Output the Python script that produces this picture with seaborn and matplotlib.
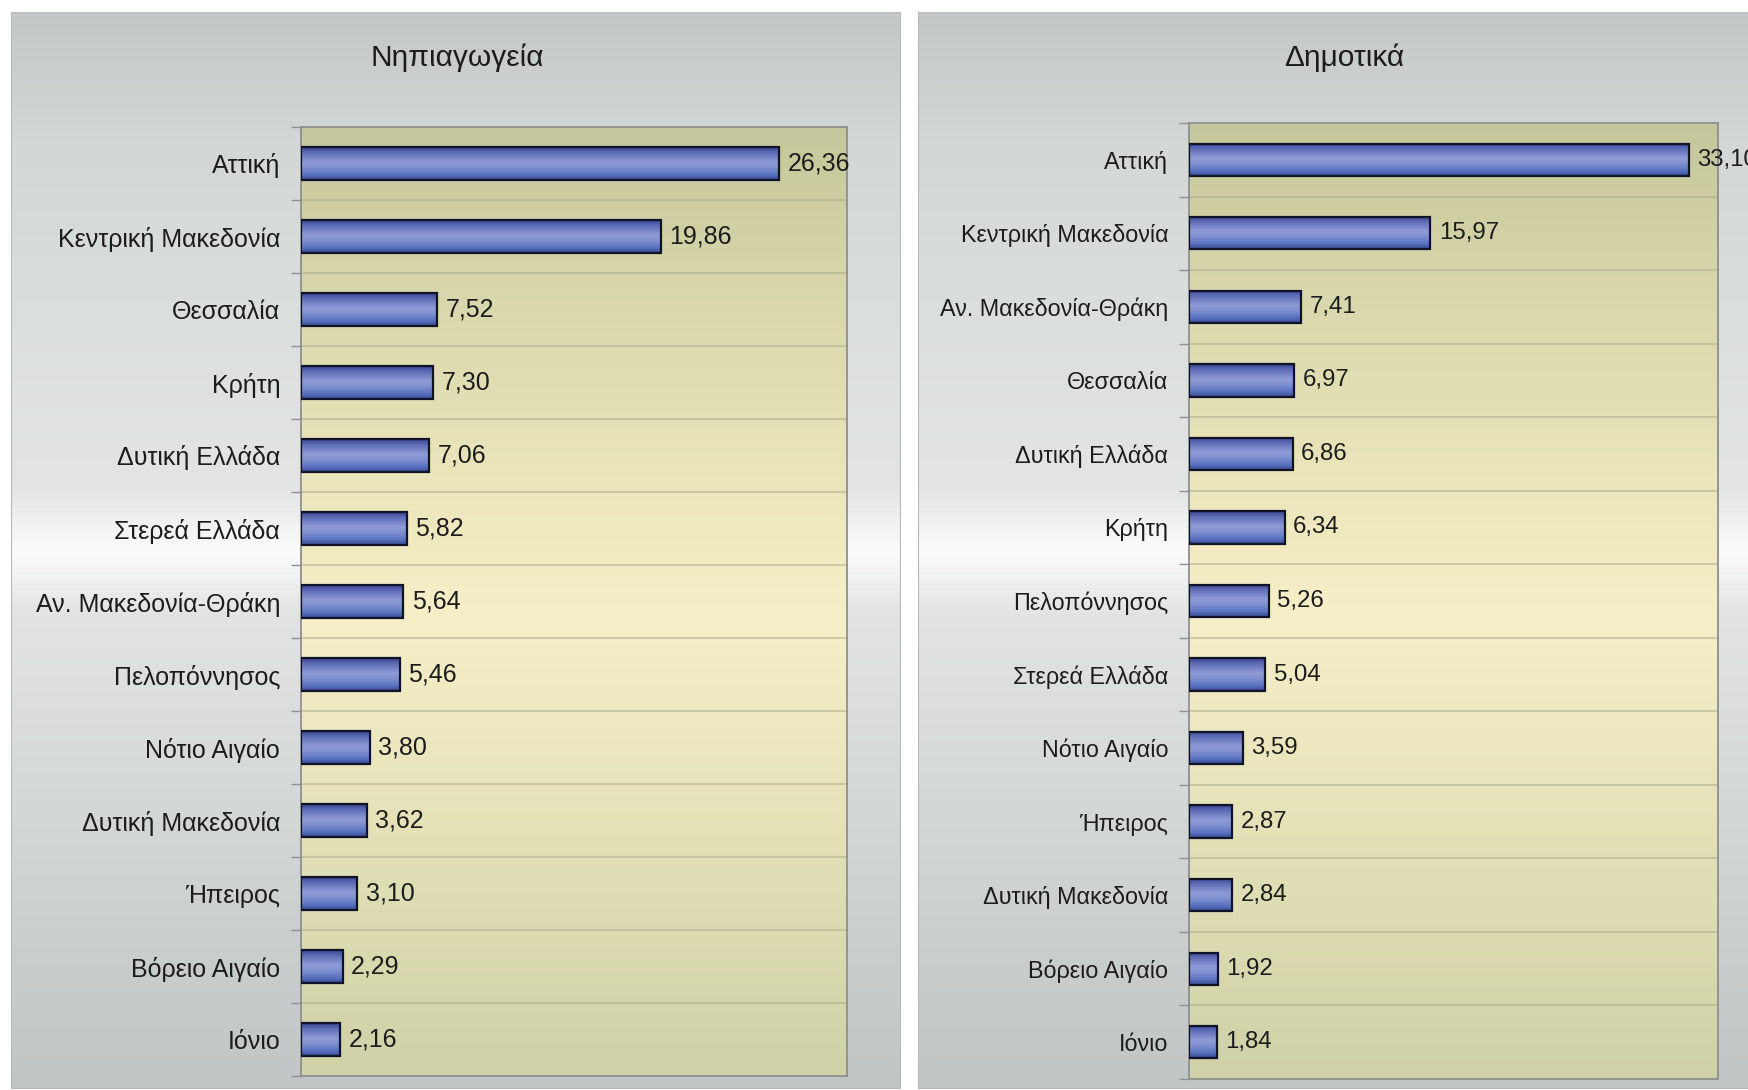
import numpy as np
import matplotlib
matplotlib.use("Agg")
import matplotlib.pyplot as plt
from matplotlib.colors import LinearSegmentedColormap
from matplotlib.patches import Rectangle
import seaborn as sns
import pandas as pd

# ---------------- data ----------------
left_title = "Νηπιαγωγεία"
left_regions = ["Αττική", "Κεντρική Μακεδονία", "Θεσσαλία", "Κρήτη", "Δυτική Ελλάδα",
                "Στερεά Ελλάδα", "Αν. Μακεδονία-Θράκη", "Πελοπόννησος", "Νότιο Αιγαίο",
                "Δυτική Μακεδονία", "Ήπειρος", "Βόρειο Αιγαίο", "Ιόνιο"]
left_values = [26.36, 19.86, 7.52, 7.30, 7.06, 5.82, 5.64, 5.46, 3.80, 3.62, 3.10, 2.29, 2.16]

right_title = "Δημοτικά"
right_regions = ["Αττική", "Κεντρική Μακεδονία", "Αν. Μακεδονία-Θράκη", "Θεσσαλία",
                 "Δυτική Ελλάδα", "Κρήτη", "Πελοπόννησος", "Στερεά Ελλάδα", "Νότιο Αιγαίο",
                 "Ήπειρος", "Δυτική Μακεδονία", "Βόρειο Αιγαίο", "Ιόνιο"]
right_values = [33.10, 15.97, 7.41, 6.97, 6.86, 6.34, 5.26, 5.04, 3.59, 2.87, 2.84, 1.92, 1.84]

# ---------------- style ----------------
sns.set_theme(style="white")
plt.rcParams['font.family'] = ['Liberation Sans', 'DejaVu Sans']

W, H = 1749, 1090
fig = plt.figure(figsize=(W / 100, H / 100), dpi=100)
fig.patch.set_facecolor('white')


def fx(px):
    return px / W


def fy(py):
    return 1 - py / H


panel_cmap = LinearSegmentedColormap.from_list('panel', [
    (0.0, '#c3c7c7'), (0.12, '#d3d8d7'), (0.44, '#e2e5e4'), (0.5, '#fbfbfb'),
    (0.56, '#e1e4e3'), (1.0, '#c0c6c5')])
plot_cmap = LinearSegmentedColormap.from_list('plot', [
    (0.0, '#c5c69b'), (0.15, '#d6d5a9'), (0.45, '#f2ebc2'), (0.52, '#f6efc8'),
    (0.65, '#ece7be'), (1.0, '#cfd1a6')])
bar_cmap = LinearSegmentedColormap.from_list('bar', [
    (0.0, '#38428a'), (0.15, '#5a69b4'), (0.45, '#8e9bd6'), (0.6, '#8393d0'),
    (0.85, '#5770c0'), (1.0, '#38478c')])

grad = np.linspace(0, 1, 256).reshape(-1, 1)


def add_panel(x0, y0, x1, y1):
    pax = fig.add_axes([fx(x0), fy(y1), fx(x1) - fx(x0), fy(y0) - fy(y1)], zorder=0)
    pax.imshow(grad, aspect='auto', cmap=panel_cmap, extent=[0, 1, 0, 1], origin='upper')
    pax.add_patch(Rectangle((0, 0), 1, 1, transform=pax.transAxes, fill=False,
                            edgecolor='#b4b8b8', lw=1.5))
    pax.set_axis_off()


def draw_chart(title, regions, values, box, xmax, title_x, fs, vfs):
    x0, y0, x1, y1 = box
    rect = [fx(x0), fy(y1), fx(x1) - fx(x0), fy(y0) - fy(y1)]
    bg = fig.add_axes(rect, zorder=1)
    bg.imshow(grad, aspect='auto', cmap=plot_cmap, extent=[0, 1, 0, 1], origin='upper')
    bg.set_axis_off()

    ax = fig.add_axes(rect, zorder=2)
    ax.set_facecolor('none')
    df = pd.DataFrame({'region': regions, 'value': values})
    sns.barplot(data=df, y='region', x='value', orient='h', color='#6a7cc8',
                edgecolor='#10122a', linewidth=1.6, width=0.44, ax=ax)
    n = len(regions)

    # gradient fill inside bars
    for p in ax.patches:
        bx, by = p.get_x(), p.get_y()
        bw, bh = p.get_width(), p.get_height()
        im = ax.imshow(grad, aspect='auto', cmap=bar_cmap, origin='upper',
                       extent=[bx, bx + bw, by + bh, by], zorder=2)
        im.set_clip_path(p)
        p.set_facecolor('none')
        p.set_zorder(3)

    # category separators
    for k in range(n - 1):
        ax.axhline(k + 0.5, color='#a3a485', lw=1.1, alpha=0.6, zorder=1)

    labels = [f"{v:.2f}".replace('.', ',') for v in values]
    ax.bar_label(ax.containers[0], labels=labels, padding=6, fontsize=vfs,
                 color='#1c1c1c', clip_on=False)

    ax.set_xlim(0, xmax)
    ax.set_ylim(n - 0.5, -0.5)
    ax.set_xlabel('')
    ax.set_ylabel('')
    ax.set_xticks([])
    ax.set_yticks(np.arange(-0.5, n, 1), minor=True)
    ax.tick_params(axis='y', which='major', length=0, pad=15, labelsize=fs,
                   labelcolor='#1c1c1c')
    ax.tick_params(axis='y', which='minor', length=7, width=1, color='#8f9090',
                   direction='out', left=True)
    for s in ax.spines.values():
        s.set_visible(True)
        s.set_color('#8e8f8f')
        s.set_linewidth(1.3)

    fig.text(fx(title_x), fy(58), title, ha='center', va='center', fontsize=21.5,
             color='#1c1c1c')


add_panel(11, 12, 901, 1089)
add_panel(918, 12, 1760, 1089)

draw_chart(left_title, left_regions, left_values, (301, 127, 847, 1076), 30.1, 457, 18, 18)
draw_chart(right_title, right_regions, right_values, (1189, 123, 1718, 1079), 35.0, 1344, 16.8, 17.3)

fig.savefig('out.png', dpi=100)
